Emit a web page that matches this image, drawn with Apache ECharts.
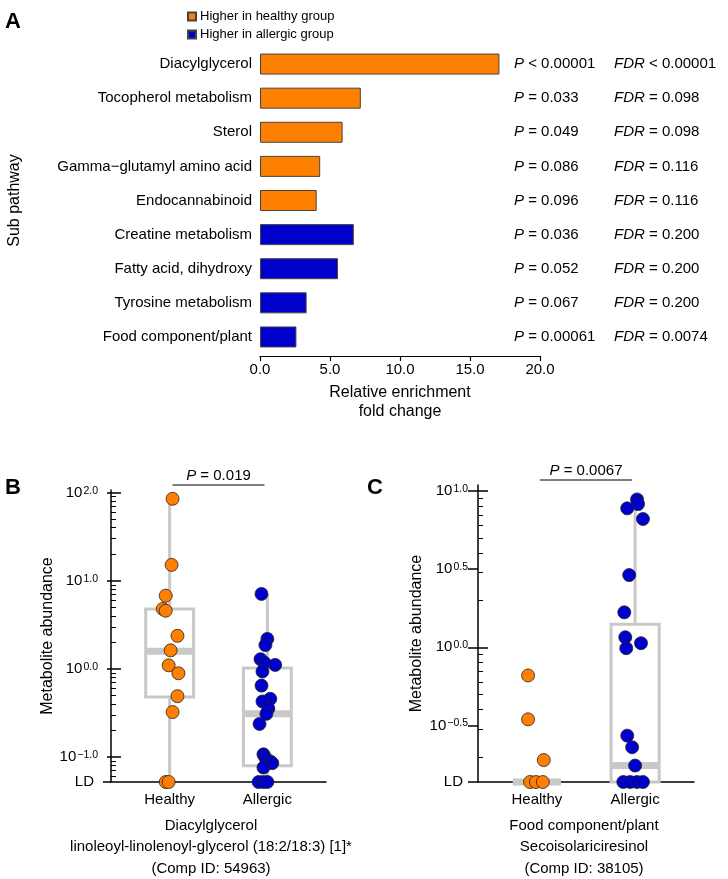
<!DOCTYPE html>
<html><head><meta charset="utf-8">
<script src="https://cdn.jsdelivr.net/npm/echarts@6/dist/echarts.min.js"></script>
<style>html,body{margin:0;padding:0;background:#fff}#c{width:728px;height:879px}</style>
</head><body><div id="c"></div>
<script>
// ---------- Panel A data ----------
const subPathways = ['Diacylglycerol','Tocopherol metabolism','Sterol','Gamma\u2212glutamyl amino acid','Endocannabinoid','Creatine metabolism','Fatty acid, dihydroxy','Tyrosine metabolism','Food component/plant'];
const foldChange = [17.1, 7.2, 5.9, 4.3, 4.05, 6.7, 5.57, 3.33, 2.6];
const higherIn = ['healthy','healthy','healthy','healthy','healthy','allergic','allergic','allergic','allergic'];
const pValues = ['< 0.00001','= 0.033','= 0.049','= 0.086','= 0.096','= 0.036','= 0.052','= 0.067','= 0.00061'];
const fdrValues = ['< 0.00001','= 0.098','= 0.098','= 0.116','= 0.116','= 0.200','= 0.200','= 0.200','= 0.0074'];
const legendNames = ['Higher in healthy group','Higher in allergic group'];

// ---------- Panels B, C data (log10 abundance; 'LD' = below limit of detection) ----------
const groups = ['Healthy','Allergic'];
const bHealthy = [1.93, 1.18, 0.83, 0.68, 0.66, 0.375, 0.21, 0.04, -0.05, -0.31, -0.49, 'LD', 'LD'];
const bHealthyJitter = [0.03, 0.02, -0.04, -0.07, -0.04, 0.08, 0.01, -0.01, 0.09, 0.08, 0.03, -0.04, -0.01];
const bAllergic = [0.85, 0.34, 0.27, 0.11, 0.07, 0.045, -0.03, -0.19, -0.34, -0.37, -0.45, -0.51, -0.625, -0.97, -1.01, -1.05, -1.07, -1.12, 'LD', 'LD', 'LD'];
const bAllergicJitter = [-0.06, 0, -0.02, -0.07, -0.03, 0.08, -0.05, -0.06, 0.03, -0.05, 0.01, -0.01, -0.08, -0.04, -0.02, 0.03, 0.05, -0.04, -0.09, -0.04, 0];
const bBoxes = [ // [low, q1, median, q3, high]
  ['LD', -0.32, 0.2, 0.68, 1.93],
  ['LD', -1.10, -0.51, 0.01, 0.85]
];
const bLD = -1.284;
const bMax = 2.03;
const bMajor = [-1, 0, 1, 2];
const bTitle = ['Diacylglycerol', 'linoleoyl-linolenoyl-glycerol (18:2/18:3) [1]*', '(Comp ID: 54963)'];
const bP = '0.019';

const cHealthy = [-0.18, -0.46, -0.72, 'LD', 'LD', 'LD'];
const cHealthyJitter = [-0.09, -0.09, 0.07, -0.07, -0.01, 0.06];
const cAllergic = [0.944, 0.914, 0.887, 0.819, 0.461, 0.223, 0.064, 0.026, -0.006, -0.564, -0.638, -0.755, 'LD', 'LD', 'LD', 'LD'];
const cAllergicJitter = [0.02, 0.03, -0.08, 0.08, -0.06, -0.11, -0.10, 0.06, -0.09, -0.08, -0.03, 0, -0.12, -0.05, 0.02, 0.08];
const cBoxes = [
  ['LD', 'LD', 'LD', 'LD', 'LD'],
  ['LD', 'LD', -0.755, 0.147, 0.944]
];
const cLD = -0.86;
const cMax = 1.036;
const cMajor = [0, 1];
const cHalf = [-0.5, 0.5];
const cTitle = ['Food component/plant', 'Secoisolariciresinol', '(Comp ID: 38105)'];
const cP = '0.0067';

// ---------- styling ----------
const FONT = 'Liberation Sans, Arial, Helvetica, sans-serif';
const ORANGE = '#FF8000', BLUE = '#0000CC', GRAY = '#c8c8c8';

function minorTicks(lo, hi) {
  const out = [];
  for (let k = -3; k <= 3; k++) for (let m = 2; m <= 9; m++) {
    const v = k + Math.log10(m);
    if (v >= lo && v <= hi) out.push(v);
  }
  return out;
}
function fmtPow(v) {
  const s = (v < 0 ? '\u2212' : '') + Math.abs(v).toFixed(1);
  return '10{sup|' + s + '}';
}
const powRich = { sup: { fontSize: 10.5, verticalAlign: 'top', fontFamily: FONT, padding: [0, 0, 0, 1] } };
const toY = (v, ld) => (v === 'LD' ? ld : v);

function scatterData(vals, jit, cat, ld) {
  return vals.map((v, i) => [cat + jit[i], toY(v, ld)]);
}
function boxData(boxes, ld) {
  return boxes.map((b, i) => [i + 1].concat(b.map(v => toY(v, ld))));
}
function boxRender(params, api) {
  const cat = api.value(0);
  const lo = api.value(1), q1 = api.value(2), med = api.value(3), q3 = api.value(4), hi = api.value(5);
  const hw = 0.245;
  const tl = api.coord([cat - hw, q3]);
  const br = api.coord([cat + hw, q1]);
  const pm = api.coord([cat, med]);
  const pLo = api.coord([cat, lo]), pHi = api.coord([cat, hi]);
  const pq1 = api.coord([cat, q1]), pq3 = api.coord([cat, q3]);
  const st = { stroke: GRAY, lineWidth: 3, fill: null };
  return { type: 'group', children: [
    { type: 'line', shape: { x1: pHi[0], y1: pHi[1], x2: pq3[0], y2: pq3[1] }, style: st },
    { type: 'line', shape: { x1: pq1[0], y1: pq1[1], x2: pLo[0], y2: pLo[1] }, style: st },
    { type: 'rect', shape: { x: tl[0], y: tl[1], width: br[0] - tl[0], height: br[1] - tl[1] }, style: { stroke: GRAY, lineWidth: 3, fill: 'rgba(0,0,0,0)' } },
    { type: 'rect', shape: { x: tl[0], y: pm[1] - 3.5, width: br[0] - tl[0], height: 7 }, style: { fill: GRAY } }
  ]};
}
function bracketRender(pText) {
  return function (params, api) {
    const a = api.coord([api.value(0), api.value(2)]);
    const b = api.coord([api.value(1), api.value(2)]);
    const y = a[1] - 5;
    return { type: 'group', children: [
      { type: 'line', shape: { x1: a[0], y1: y, x2: b[0], y2: y }, style: { stroke: '#000', lineWidth: 1.2 } },
      { type: 'text', x: (a[0] + b[0]) / 2, y: y - 2, style: { text: '{i|P} = ' + pText, rich: { i: { fontStyle: 'italic', fontSize: 15, fontFamily: FONT } }, fontSize: 15, fontFamily: FONT, fill: '#000', align: 'center', verticalAlign: 'bottom' } }
    ]};
  };
}

function yAxesFor(grid, ld, max, labelVals, outTicks, crossTicks, minor, outLen, labelMargin, ldLen, ldMargin) {
  const base = { type: 'value', gridIndex: grid, min: ld, max: max, position: 'left', splitLine: { show: false } };
  const tickStyle = { color: '#000', width: 1.5 };
  return [
    Object.assign({}, base, {
      name: 'Metabolite abundance', nameLocation: 'middle', nameGap: 53, nameRotate: 90,
      nameTextStyle: { fontSize: 16, fontFamily: FONT, color: '#000' },
      axisLine: { show: true, lineStyle: { color: '#000', width: 1.5 } },
      axisTick: { show: true, inside: false, length: outLen, customValues: outTicks, lineStyle: tickStyle },
      axisLabel: { show: true, customValues: labelVals, margin: labelMargin, fontSize: 15, fontFamily: FONT, color: '#000',
        formatter: v => fmtPow(v), rich: powRich }
    }),
    Object.assign({}, base, {
      axisLine: { show: false },
      axisTick: { show: true, inside: false, length: ldLen, customValues: [ld], lineStyle: tickStyle },
      axisLabel: { show: true, customValues: [ld], margin: ldMargin, fontSize: 15, fontFamily: FONT, color: '#000', formatter: () => 'LD' }
    }),
    Object.assign({}, base, {
      axisLine: { show: false }, axisLabel: { show: false },
      axisTick: { show: true, inside: true, length: 10, customValues: crossTicks, lineStyle: tickStyle }
    }),
    Object.assign({}, base, {
      axisLine: { show: false }, axisLabel: { show: false },
      axisTick: { show: true, inside: true, length: 5, customValues: minor, lineStyle: { color: '#000', width: 1 } }
    })
  ];
}
function xAxisFor(grid) {
  return {
    type: 'value', gridIndex: grid, min: 0.4, max: 2.6, splitLine: { show: false },
    axisLine: { onZero: false, lineStyle: { color: '#000', width: 1.5 } },
    axisTick: { show: false },
    axisLabel: { customValues: [1, 2], formatter: v => groups[Math.round(v) - 1], fontSize: 15, fontFamily: FONT, color: '#000', margin: 10 }
  };
}

const option = {
  animation: false,
  backgroundColor: '#fff',
  textStyle: { fontFamily: FONT },
  legend: {
    orient: 'vertical', left: 187, top: 10, itemWidth: 8, itemHeight: 8, itemGap: 5, padding: 0,
    icon: 'rect', textStyle: { fontSize: 13, fontFamily: FONT, color: '#000', padding: [0, 0, 0, -1] },
    data: legendNames
  },
  grid: [
    { left: 260, right: 188, top: 47, height: 307 },
    { left: 111, width: 215, top: 490, bottom: 879 - 782 },
    { left: 478, width: 216, top: 485, bottom: 879 - 782 }
  ],
  xAxis: [
    { type: 'value', gridIndex: 0, min: 0, max: 20, interval: 5, offset: 2,
      splitLine: { show: false },
      axisLine: { show: true, lineStyle: { color: '#000', width: 1.2 } },
      axisTick: { show: true, length: 5, lineStyle: { color: '#000', width: 1.2 } },
      axisLabel: { formatter: v => v.toFixed(1), fontSize: 15, fontFamily: FONT, color: '#000', margin: 6 },
      name: 'Relative enrichment\nfold change', nameLocation: 'middle', nameGap: 27,
      nameTextStyle: { fontSize: 16, fontFamily: FONT, color: '#000', lineHeight: 19, verticalAlign: 'top' } },
    xAxisFor(1),
    xAxisFor(2)
  ],
  yAxis: [
    { type: 'category', gridIndex: 0, data: subPathways, inverse: true,
      axisLine: { show: false }, axisTick: { show: false },
      axisLabel: { fontSize: 15, fontFamily: FONT, color: '#000', margin: 8 },
      name: 'Sub pathway', nameLocation: 'middle', nameRotate: 90, nameGap: 237,
      nameTextStyle: { fontSize: 16, fontFamily: FONT, color: '#000' } },
    { type: 'category', gridIndex: 0, data: subPathways, inverse: true, position: 'right',
      axisLine: { show: false }, axisTick: { show: false },
      axisLabel: { margin: -26, fontSize: 15, fontFamily: FONT, color: '#000', align: 'left',
        formatter: (v, i) => '{pi|P}{pv| ' + pValues[i] + '}{fi|FDR}{fv| ' + fdrValues[i] + '}',
        rich: {
          pi: { fontStyle: 'italic', fontSize: 15, fontFamily: FONT, width: 10 },
          pv: { fontSize: 15, fontFamily: FONT, width: 90 },
          fi: { fontStyle: 'italic', fontSize: 15, fontFamily: FONT },
          fv: { fontSize: 15, fontFamily: FONT }
        } } }
  ].concat(
    yAxesFor(1, bLD, bMax, bMajor, bMajor, bMajor, minorTicks(bLD, bMax), 4, 13, 8, 17),
    yAxesFor(2, cLD, cMax, [-0.5, 0, 0.5, 1], cHalf.concat(cMajor), cMajor, minorTicks(cLD, cMax), 10, 10, 10, 15)
  ),
  graphic: [
    { type: 'text', left: 5, top: 11, style: { text: 'A', font: 'bold 22px ' + FONT, fill: '#000' } },
    { type: 'text', left: 5, top: 477, style: { text: 'B', font: 'bold 22px ' + FONT, fill: '#000' } },
    { type: 'text', left: 367, top: 477, style: { text: 'C', font: 'bold 22px ' + FONT, fill: '#000' } },
    { type: 'text', x: 211, y: 815, style: { text: bTitle.join('\n'), font: '15px ' + FONT, fill: '#000', align: 'center', lineHeight: 21.5 } },
    { type: 'text', x: 584, y: 815, style: { text: cTitle.join('\n'), font: '15px ' + FONT, fill: '#000', align: 'center', lineHeight: 21.5 } }
  ],
  series: [
    { type: 'bar', name: legendNames[0], xAxisIndex: 0, yAxisIndex: 0, stack: 'a', barWidth: 21,
      itemStyle: { color: ORANGE, borderColor: '#444', borderWidth: 1 },
      data: foldChange.map((v, i) => (higherIn[i] === 'healthy' ? v : '-')) },
    { type: 'bar', name: legendNames[1], xAxisIndex: 0, yAxisIndex: 0, stack: 'a', barWidth: 21,
      itemStyle: { color: BLUE, borderColor: '#444', borderWidth: 1 },
      data: foldChange.map((v, i) => (higherIn[i] === 'allergic' ? v : '-')) },
    // Panel B
    { type: 'custom', xAxisIndex: 1, yAxisIndex: 2, renderItem: boxRender, data: boxData(bBoxes, bLD), z: 2 },
    { type: 'scatter', xAxisIndex: 1, yAxisIndex: 2, symbolSize: 13, z: 4,
      itemStyle: { color: ORANGE, borderColor: '#222', borderWidth: 0.8, opacity: 1 }, data: scatterData(bHealthy, bHealthyJitter, 1, bLD) },
    { type: 'scatter', xAxisIndex: 1, yAxisIndex: 2, symbolSize: 13, z: 4,
      itemStyle: { color: BLUE, borderColor: '#222', borderWidth: 0.8, opacity: 1 }, data: scatterData(bAllergic, bAllergicJitter, 2, bLD) },
    { type: 'custom', xAxisIndex: 1, yAxisIndex: 2, renderItem: bracketRender(bP), data: [[1.03, 1.97, bMax]], clip: false, z: 5 },
    // Panel C
    { type: 'custom', xAxisIndex: 2, yAxisIndex: 6, renderItem: boxRender, data: boxData(cBoxes, cLD), z: 2 },
    { type: 'scatter', xAxisIndex: 2, yAxisIndex: 6, symbolSize: 13, z: 4,
      itemStyle: { color: ORANGE, borderColor: '#222', borderWidth: 0.8, opacity: 1 }, data: scatterData(cHealthy, cHealthyJitter, 1, cLD) },
    { type: 'scatter', xAxisIndex: 2, yAxisIndex: 6, symbolSize: 13, z: 4,
      itemStyle: { color: BLUE, borderColor: '#222', borderWidth: 0.8, opacity: 1 }, data: scatterData(cAllergic, cAllergicJitter, 2, cLD) },
    { type: 'custom', xAxisIndex: 2, yAxisIndex: 6, renderItem: bracketRender(cP), data: [[1.03, 1.97, cMax]], clip: false, z: 5 }
  ]
};
const chart = echarts.init(document.getElementById('c'), null, { renderer: 'canvas' });
chart.setOption(option);
</script></body></html>
